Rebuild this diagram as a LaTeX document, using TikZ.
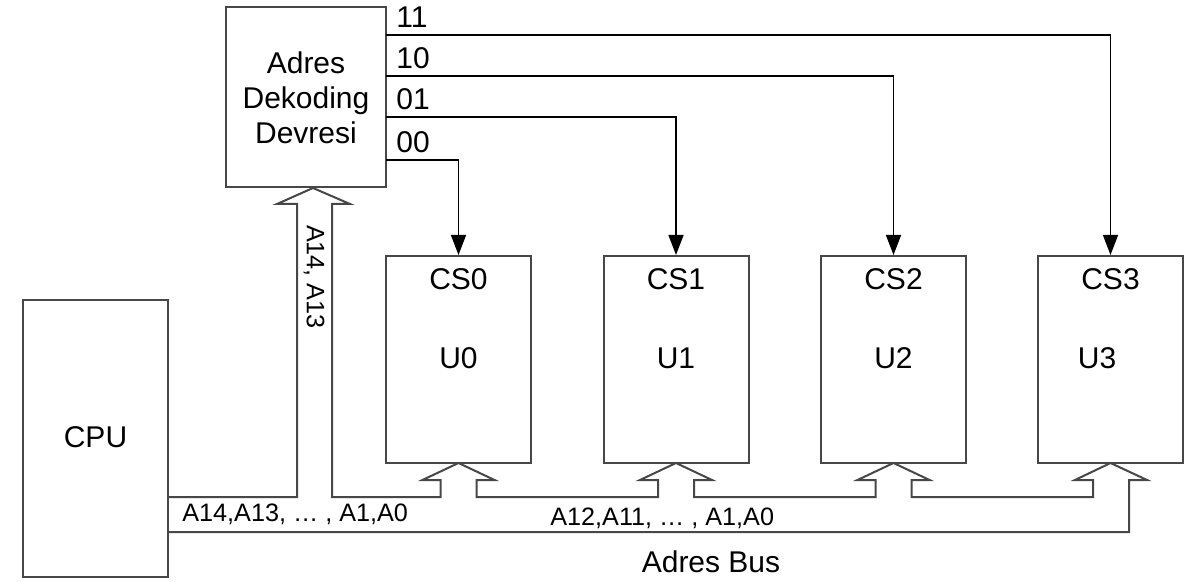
\documentclass[tikz,border=0pt]{standalone}
\usepackage{fontspec}
\setmainfont{Liberation Sans}
\usetikzlibrary{calc,arrows.meta}

\begin{document}
\begin{tikzpicture}[x=0.5pt,y=-0.5pt]

\tikzset{
  block/.style={
    draw=black!72,
    line width=1pt,
    inner sep=0pt
  },
  unit box/.style={block, minimum width=72.5pt, minimum height=103.5pt},
  lbl/.style={font=\fontsize{15}{17.5}\selectfont, inner sep=0pt},
  buslbl/.style={font=\fontsize{12.6}{14}\selectfont, inner sep=0pt},
  select line/.style={
    draw=black,
    line width=0.7pt,
    -{Triangle[length=10pt,width=7.5pt]}
  },
  bus outline/.style={draw=black!72, line width=1pt, line join=miter}
}

\useasboundingbox (0,0) rectangle (1188,582);

% CPU and decoder.
\node[block, minimum width=72.5pt, minimum height=138.5pt] (cpu) at (95.5,438.5) {};
\node[lbl] (cpulbl) at (95.5,437) {CPU};
\node[block, minimum width=80pt, minimum height=90pt] (dec) at (306,97) {};
\node[lbl, align=center] (declbl) at (306,98) {Adres\\Dekoding\\Devresi};

% Memory units: \i / box centre / centre of the U label.
\foreach \i/\x/\ux in {0/458.5/458.5, 1/676/676, 2/893.5/893.5, 3/1110.5/1097}{
  \node[unit box] (u\i) at (\x,359.5) {};
  \node[lbl] (cs\i) at (\x,279) {CS\i};
  \node[lbl] (ulbl\i) at (\ux,358) {U\i};
}

% Chip select lines from the decoder.
\foreach \i/\y/\code in {0/160/00, 1/117/01, 2/76/10, 3/35/11}{
  \coordinate (out\i) at (386,\y);
  \draw[select line] (out\i) -| (u\i.north);
  \node[lbl, anchor=base west] (code\i) at (396,\y-7) {\code};
}

% Address bus, drawn as one hollow outline.
\draw[bus outline] (168,497)
  -- (297,497) -- (297,204) -- (277,204) -- (dec.south -| 313,0)
  -- (350,204) -- (332,204) -- (332,497)
  \foreach \x in {458.5,676,893.5}{
    -- ({\x-18},497) -- ({\x-18},480) -- ({\x-36},480) -- (\x,463)
    -- ({\x+36},480) -- ({\x+18},480) -- ({\x+18},497)
  }
  -- (1093,497) -- (1093,480) -- (1075,480) -- (1110.5,463)
  -- (1147,480) -- (1129,480) -- (1129,532) -- (168,532);

% Bus labels.
\node[buslbl, anchor=west] (cpubus) at (182,514) {A14,A13, … , A1,A0};
\node[buslbl, anchor=west] (membus) at (550,518) {A12,A11, … , A1,A0};
\node[buslbl, rotate=-90] (decbus) at (314,277) {A14, A13};
\node[lbl] (buslbl) at (711,562) {Adres Bus};

\end{tikzpicture}
\end{document}
